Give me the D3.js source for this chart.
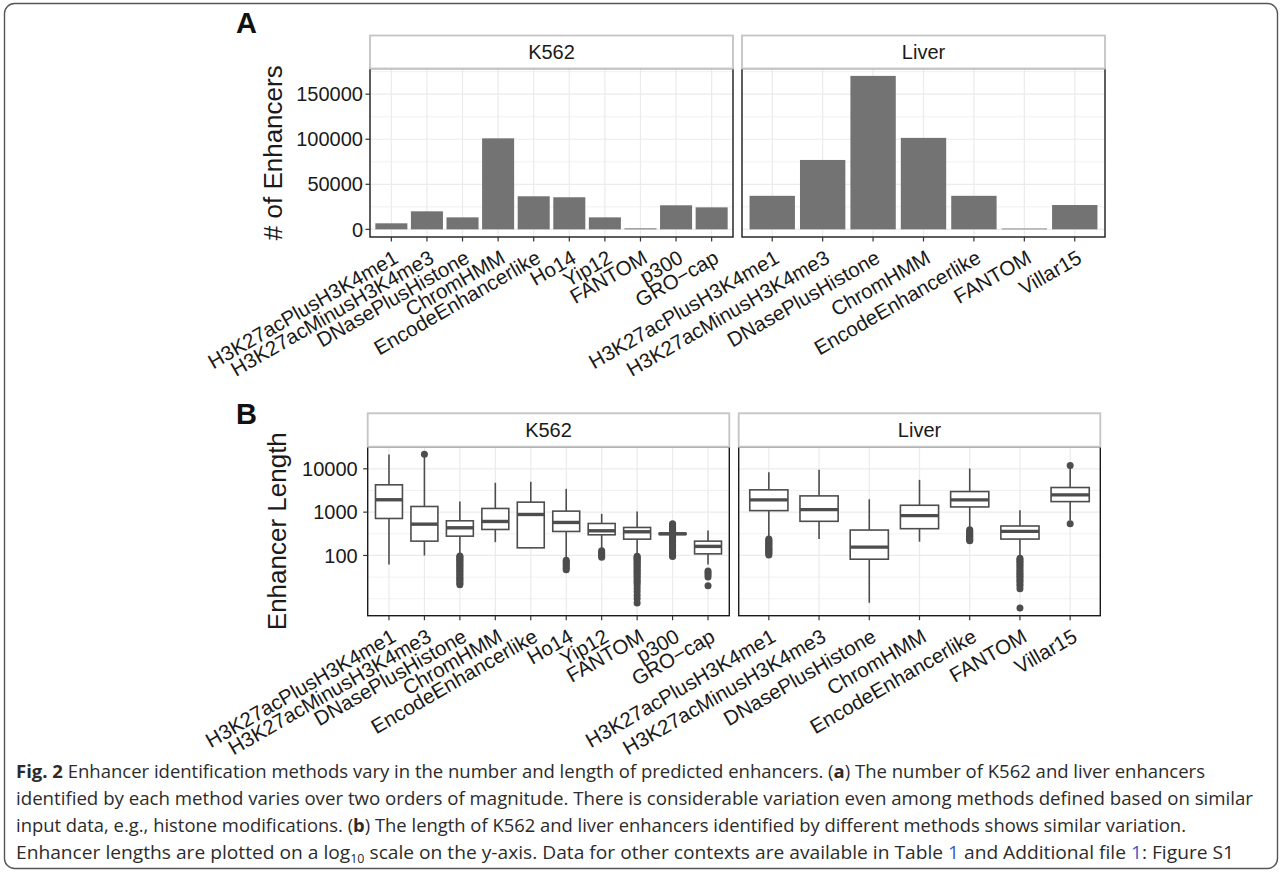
<!DOCTYPE html>
<html><head><meta charset="utf-8">
<script src="https://cdn.jsdelivr.net/npm/d3@7/dist/d3.min.js"></script>
<style>body{margin:0;background:#fff;} svg{display:block;}</style>
</head><body>
<svg id="chart" width="1282" height="875"></svg>
<script>
// ---------- DATA ----------
const k562Methods = ["H3K27acPlusH3K4me1","H3K27acMinusH3K4me3","DNasePlusHistone","ChromHMM","EncodeEnhancerlike","Ho14","Yip12","FANTOM","p300","GRO\u2212cap"];
const liverMethods = ["H3K27acPlusH3K4me1","H3K27acMinusH3K4me3","DNasePlusHistone","ChromHMM","EncodeEnhancerlike","FANTOM","Villar15"];
const k562Counts = [6700, 20000, 13300, 101000, 36700, 35600, 13300, 1100, 26700, 24400];
const liverCounts = [37200, 77000, 170300, 101500, 37200, 900, 27000];
const countTicks = [0, 50000, 100000, 150000];
const lengthTicks = [100, 1000, 10000];
// box stats: [lower whisker, Q1, median, Q3, upper whisker]
const k562Stats = [
  [62, 714, 1930, 4270, 21400],
  [100, 214, 528, 1350, 20300],
  [100, 279, 435, 631, 1760],
  [203, 398, 609, 1216, 4760],
  [150, 150, 883, 1700, 5010],
  [85, 358, 578, 1055, 3450],
  [135, 300, 371, 547, 916],
  [100, 238, 352, 443, 1036],
  [300, 306, 316, 326, 335],
  [62, 109, 162, 214, 378]
];
const liverStats = [
  [250, 1084, 1915, 3265, 8380],
  [239, 614, 1143, 2370, 9480],
  [8.1, 82, 156, 386, 1980],
  [208, 415, 829, 1440, 5560],
  [405, 1318, 1915, 2986, 10180],
  [93, 239, 360, 479, 1100],
  [640, 1750, 2500, 3700, 10500]
];
const k562Outliers = [
  [],
  [21800],
  [97, 92, 87, 82, 77, 72, 67, 62, 58, 54, 50, 46, 43, 40, 37, 34, 31, 29, 27, 25, 23, 21],
  [],
  [],
  [78, 72, 66, 61, 56, 51, 47],
  [128, 120, 112, 104, 97, 91],
  [96, 91, 86, 81, 76, 71, 66, 61, 57, 53, 49, 45, 42, 39, 36, 33, 30, 27, 25, 23, 20, 17, 14.5, 12, 10, 8],
  [540, 515, 490, 465, 440, 420, 400, 380, 362, 348, 290, 278, 266, 254, 242, 230, 218, 206, 195, 184, 173, 162, 152, 143, 134, 126, 118, 111, 104, 98, 95],
  [44, 40, 36, 32, 20]
];
const liverOutliers = [
  [240, 226, 212, 199, 187, 176, 166, 156, 147, 139, 131, 123, 116, 109, 103],
  [],
  [],
  [],
  [392, 368, 346, 325, 305, 287, 270, 254, 240, 226, 218],
  [86, 80, 74, 68, 62, 57, 52, 47, 43, 39, 36, 33, 30, 27, 25, 22, 20, 17, 6.1],
  [11940, 540]
];

// ---------- LAYOUT ----------
const svg = d3.select("#chart");
const FONT = "'Liberation Sans', Arial, Helvetica, sans-serif";
const TXT = "#1a1a1a";
const GRID = "#ebebeb";
const BOXC = "#4d4d4d";

svg.append("rect").attr("x", 4.5).attr("y", 3.5).attr("width", 1273).attr("height", 865)
  .attr("rx", 10).attr("fill", "none").attr("stroke", "#555").attr("stroke-width", 1.4);

const A = { stripTop: 35.5, top: 68.5, bottom: 237, panels: [{left: 370, width: 363}, {left: 742, width: 363}] };
const B = { stripTop: 413.3, top: 446.7, bottom: 615.7, panels: [{left: 367.7, width: 361.6}, {left: 738.7, width: 361.6}] };

const yCount = d3.scaleLinear().domain([-8500, 178500]).range([A.bottom, A.top]);
const yLen = d3.scaleLog().domain([Math.pow(10, 0.61), Math.pow(10, 4.51)]).range([B.bottom, B.top]);

function frame(P, p, cats, yScale, majors, minors, label) {
  const x = d3.scalePoint().domain(cats).range([p.left, p.left + p.width]).padding(0.6);
  const g = svg.append("g");
  g.selectAll(".mn").data(minors).join("line")
    .attr("x1", p.left).attr("x2", p.left + p.width)
    .attr("y1", d => yScale(d)).attr("y2", d => yScale(d))
    .attr("stroke", GRID).attr("stroke-width", 0.7);
  g.selectAll(".mj").data(majors).join("line")
    .attr("x1", p.left).attr("x2", p.left + p.width)
    .attr("y1", d => yScale(d)).attr("y2", d => yScale(d))
    .attr("stroke", GRID).attr("stroke-width", 1.2);
  g.selectAll(".vx").data(cats).join("line")
    .attr("x1", d => x(d)).attr("x2", d => x(d))
    .attr("y1", P.top).attr("y2", P.bottom)
    .attr("stroke", GRID).attr("stroke-width", 1.2);
  return {x, g, label};
}

function finish(P, p, f, yScale, ticks, showY, yLabelGap, cats) {
  const g = f.g;
  g.append("rect").attr("x", p.left).attr("y", P.top).attr("width", p.width).attr("height", P.bottom - P.top)
    .attr("fill", "none").attr("stroke", "#1a1a1a").attr("stroke-width", 1.4);
  g.append("rect").attr("x", p.left).attr("y", P.stripTop).attr("width", p.width).attr("height", P.top - P.stripTop)
    .attr("fill", "#fff").attr("stroke", "#c4c4c4").attr("stroke-width", 1.8);
  g.append("text").attr("x", p.left + p.width / 2).attr("y", (P.stripTop + P.top) / 2).attr("dy", "0.36em")
    .attr("text-anchor", "middle").attr("font-family", FONT).attr("font-size", 20).attr("fill", TXT).text(f.label);
  g.selectAll(".xt").data(cats).join("line")
    .attr("x1", d => f.x(d)).attr("x2", d => f.x(d)).attr("y1", P.bottom).attr("y2", P.bottom + 4.5)
    .attr("stroke", "#333").attr("stroke-width", 1.2);
  g.selectAll(".xl").data(cats).join("text")
    .attr("transform", d => `translate(${f.x(d) + 1},${P.bottom + 12}) rotate(-30)`)
    .attr("dy", "0.72em").attr("text-anchor", "end")
    .attr("font-family", FONT).attr("font-size", 20.5).attr("fill", TXT).text(d => d);
  if (showY) {
    g.selectAll(".yt").data(ticks).join("line")
      .attr("x1", p.left - 4.5).attr("x2", p.left).attr("y1", d => yScale(d)).attr("y2", d => yScale(d))
      .attr("stroke", "#333").attr("stroke-width", 1.2);
    g.selectAll(".yl").data(ticks).join("text")
      .attr("x", p.left - yLabelGap).attr("y", d => yScale(d)).attr("dy", "0.36em")
      .attr("text-anchor", "end").attr("font-family", FONT).attr("font-size", 20).attr("fill", TXT)
      .text(d => d);
  }
}

// ---------- PANEL A ----------
const countMinor = [25000, 75000, 125000, 175000];
[[k562Methods, k562Counts, "K562"], [liverMethods, liverCounts, "Liver"]].forEach(([cats, vals, lab], i) => {
  const p = A.panels[i];
  const f = frame(A, p, cats, yCount, countTicks, countMinor, lab);
  const bw = f.x.step() * 0.9;
  f.g.selectAll(".bar").data(cats).join("rect")
    .attr("x", d => f.x(d) - bw / 2).attr("width", bw)
    .attr("y", (d, j) => yCount(vals[j])).attr("height", (d, j) => yCount(0) - yCount(vals[j]))
    .attr("fill", "#737373");
  finish(A, p, f, yCount, countTicks, i === 0, 7, cats);
});

// ---------- PANEL B ----------
const lenMinor = [10, Math.pow(10, 1.5), Math.pow(10, 2.5), Math.pow(10, 3.5), Math.pow(10, 4.5)];
[[k562Methods, k562Stats, k562Outliers, "K562"], [liverMethods, liverStats, liverOutliers, "Liver"]].forEach(([cats, stats, outs, lab], i) => {
  const p = B.panels[i];
  const f = frame(B, p, cats, yLen, lengthTicks, lenMinor, lab);
  const hw = f.x.step() * 0.38;
  cats.forEach((c, j) => {
    const [lo, q1, med, q3, hi] = stats[j];
    const cx = f.x(c);
    const bg = f.g.append("g");
    bg.append("line").attr("x1", cx).attr("x2", cx).attr("y1", yLen(q3)).attr("y2", yLen(hi))
      .attr("stroke", BOXC).attr("stroke-width", 1.6);
    bg.append("line").attr("x1", cx).attr("x2", cx).attr("y1", yLen(q1)).attr("y2", yLen(lo))
      .attr("stroke", BOXC).attr("stroke-width", 1.6);
    bg.append("rect").attr("x", cx - hw).attr("width", hw * 2)
      .attr("y", yLen(q3)).attr("height", Math.max(0.5, yLen(q1) - yLen(q3)))
      .attr("fill", "#fff").attr("stroke", BOXC).attr("stroke-width", 1.6);
    bg.append("line").attr("x1", cx - hw).attr("x2", cx + hw).attr("y1", yLen(med)).attr("y2", yLen(med))
      .attr("stroke", BOXC).attr("stroke-width", 3.4);
    bg.selectAll("circle").data(outs[j]).join("circle")
      .attr("cx", cx).attr("cy", d => yLen(d)).attr("r", 3.5).attr("fill", BOXC);
  });
  finish(B, p, f, yLen, lengthTicks, i === 0, 10, cats);
});

// ---------- TITLES / LETTERS ----------
svg.append("text").attr("transform", `translate(273,${(A.top + A.bottom) / 2}) rotate(-90)`)
  .attr("dy", "0.36em").attr("text-anchor", "middle").attr("font-family", FONT).attr("font-size", 26)
  .attr("fill", TXT).text("# of Enhancers");
svg.append("text").attr("transform", `translate(277,${(B.top + B.bottom) / 2}) rotate(-90)`)
  .attr("dy", "0.36em").attr("text-anchor", "middle").attr("font-family", FONT).attr("font-size", 26)
  .attr("fill", TXT).text("Enhancer Length");
svg.append("text").attr("x", 236).attr("y", 33).attr("font-family", FONT).attr("font-weight", "bold")
  .attr("font-size", 29).attr("fill", "#111").text("A");
svg.append("text").attr("x", 236).attr("y", 424).attr("font-family", FONT).attr("font-weight", "bold")
  .attr("font-size", 29).attr("fill", "#111").text("B");

// ---------- CAPTION ----------
const CAPF = "'Open Sans', 'Noto Sans', sans-serif";
const capLines = [
  {y: 778, end: 1205, parts: [["Fig. 2", "b"], [" Enhancer identification methods vary in the number and length of predicted enhancers. ("], ["a", "b"], [") The number of K562 and liver enhancers"]]},
  {y: 805, end: 1253, parts: [["identified by each method varies over two orders of magnitude. There is considerable variation even among methods defined based on similar"]]},
  {y: 832, end: 1186, parts: [["input data, e.g., histone modifications. ("], ["b", "b"], [") The length of K562 and liver enhancers identified by different methods shows similar variation."]]},
  {y: 859, end: 1234, parts: [["Enhancer lengths are plotted on a log"], ["10", "sub"], [" scale on the y-axis. Data for other contexts are available in Table "], ["1", "link"], [" and Additional file "], ["1", "link"], [": Figure S1"]]}
];
capLines.forEach(l => {
  const t = svg.append("text").attr("x", 16).attr("y", l.y).attr("font-family", CAPF).attr("font-size", 18.5)
    .attr("fill", "#2b2b2b").attr("textLength", l.end - 16).attr("lengthAdjust", "spacingAndGlyphs");
  l.parts.forEach(([s, k]) => {
    const ts = t.append("tspan").text(s);
    if (k === "b") ts.attr("font-weight", "bold");
    if (k === "link") ts.attr("fill", "#3b5bc8");
    if (k === "sub") ts.attr("font-size", 12).attr("dy", 4);
  });
  t.selectAll("tspan").each(function(d, i, nodes) {
    if (i > 0 && nodes[i - 1].getAttribute("dy") === "4") d3.select(this).attr("dy", -4);
  });
});
</script>
</body></html>
